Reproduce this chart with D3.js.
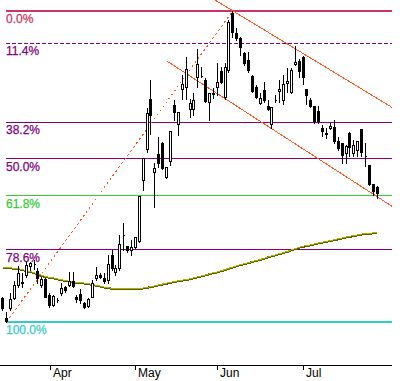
<!DOCTYPE html>
<html><head><meta charset="utf-8">
<script src="https://cdn.jsdelivr.net/npm/d3@7"></script>
<style>
html,body{margin:0;padding:0;background:#fff;}
svg{display:block;}
text{font-family:"Liberation Sans",Arial,sans-serif;font-size:12px;}
</style></head><body>
<svg id="chart" width="418" height="381"></svg>
<script>
// ---- data ----
const open  = [101.53,100.26,100.88,101.53,102.38,102.59,103.03,103.65,103.73,103.32,102.38,102.75,101.73,101.08,101.40,101.88,102.27,102.36,102.64,101.62,101.77,101.19,101.01,101.62,102.82,103.03,102.85,102.70,104.36,103.25,103.49,105.70,104.96,104.69,104.87,105.32,109.49,111.66,115.29,110.07,111.32,112.09,109.72,110.85,114.87,113.48,116.05,116.17,114.57,114.55,116.92,117.02,116.72,115.11,115.77,116.17,117.40,115.48,117.47,121.81,120.26,119.88,118.73,118.22,117.02,116.17,115.04,115.97,114.82,113.48,115.24,115.92,115.24,116.47,115.84,117.90,118.15,118.43,116.05,115.24,114.79,114.43,113.21,112.85,113.21,113.28,112.26,112.13,111.37,112.81,111.42,111.61,113.10,111.18,110.54,109.21,109.02];
const high  = [101.60,100.64,101.86,102.64,103.63,103.16,103.91,103.91,104.02,103.49,102.92,102.84,101.86,101.73,101.53,102.51,102.31,103.25,103.25,101.73,102.12,101.29,101.53,102.70,103.58,103.18,103.15,104.36,104.69,103.69,105.70,106.52,104.98,105.36,105.59,108.37,111.02,114.65,116.72,110.68,112.57,112.21,110.42,112.98,115.24,114.33,117.10,118.47,115.29,115.77,119.03,117.72,116.85,115.73,116.10,117.97,117.72,117.97,121.28,122.00,120.64,119.96,118.85,118.85,117.10,116.35,115.77,116.59,115.24,114.74,115.60,116.72,117.10,117.60,117.60,119.28,118.27,118.53,116.05,115.36,114.79,114.79,113.41,113.17,113.53,113.77,112.52,112.13,111.97,112.93,112.33,112.28,113.10,112.13,110.54,109.21,109.07];
const low   = [100.75,100.00,100.75,101.47,102.25,102.25,102.90,103.36,103.43,102.51,102.27,101.60,100.97,101.01,101.29,101.73,101.94,102.31,102.27,101.29,101.19,100.86,100.97,101.60,102.70,102.82,102.49,102.49,103.36,103.03,103.36,104.69,104.58,104.36,104.80,105.25,108.79,111.49,112.76,107.59,110.42,110.24,109.61,110.54,113.77,112.69,115.29,115.29,114.01,114.13,116.17,116.92,115.11,113.77,115.36,115.60,116.47,115.29,117.34,120.00,119.75,118.60,117.85,117.34,115.84,115.36,114.94,115.11,114.49,113.17,115.11,115.11,114.94,115.84,115.77,117.88,116.92,116.40,114.94,114.74,113.57,113.57,112.62,112.45,113.10,112.13,111.61,110.71,110.71,111.18,111.18,111.18,111.18,110.47,109.14,108.44,108.23];
const close = [100.88,100.07,101.47,102.38,103.16,102.49,103.69,103.82,103.73,102.82,102.77,101.62,101.08,101.66,101.40,102.20,102.05,102.64,102.33,101.45,101.40,100.97,101.45,102.49,103.03,102.92,102.66,103.76,103.48,103.48,105.10,105.70,104.69,104.91,105.59,108.37,111.02,114.30,114.13,110.31,110.66,110.31,110.42,112.98,114.37,114.33,116.42,117.55,115.00,115.24,117.92,117.02,115.19,115.73,115.66,116.55,116.59,117.72,121.15,120.38,119.93,119.23,117.97,117.47,115.92,115.48,115.36,115.24,114.55,114.74,115.24,116.02,116.42,116.65,117.47,118.09,117.42,116.92,115.60,114.79,113.72,113.72,113.00,112.76,113.33,112.28,111.73,111.25,111.90,111.85,111.97,112.28,111.49,111.18,109.21,108.74,108.56];
const movingAverage = [103.53,103.49,103.47,103.44,103.41,103.36,103.30,103.23,103.16,103.07,102.97,102.89,102.85,102.81,102.75,102.69,102.64,102.59,102.55,102.53,102.50,102.47,102.43,102.38,102.32,102.27,102.21,102.17,102.13,102.11,102.10,102.10,102.10,102.10,102.10,102.11,102.15,102.20,102.23,102.29,102.36,102.41,102.46,102.52,102.57,102.62,102.66,102.71,102.75,102.82,102.88,102.95,103.01,103.08,103.15,103.20,103.28,103.36,103.45,103.53,103.61,103.69,103.76,103.82,103.89,103.96,104.03,104.11,104.20,104.27,104.34,104.42,104.49,104.57,104.66,104.75,104.85,104.91,104.96,105.01,105.08,105.14,105.19,105.24,105.30,105.35,105.41,105.47,105.53,105.58,105.63,105.68,105.73,105.76,105.79,105.81,105.82];
const tickLabels = ["Apr","May","Jun","Jul"];
const tickIndex  = [12,34,55,77];
const fibLevels  = [0,0.114,0.382,0.5,0.618,0.786,1];
const fibLabels  = ["0.0%","11.4%","38.2%","50.0%","61.8%","78.6%","100.0%"];
const channelIndex = [42,99.8];
const channelUpper = [125.17,114.69];
const channelLower = [118.15,107.66];

// ---- styles ----
const fibColors = ["#cc3366","#800080","#800080","#800080","#33cc33","#800080","#33cccc"];
const fibWidths = [2,1,1,1,1,1,2];
const fibDash   = [null,"4,2",null,null,null,null,null];
const trendColor = "#ff5522";

const svg = d3.select("#chart");
const plotRight = 392, axisY = 365.5;
const n = close.length;
const x = d3.scaleLinear().domain([0, n-1]).range([2.8, 377.2]);
const y = d3.scaleLog().domain([100, 122]).range([321.7, 10.8]);

const maxHigh = d3.max(high), minLow = d3.min(low);
const hiIdx = high.indexOf(maxHigh), loIdx = low.indexOf(minLow);
const snap = v => Math.floor(v) + 0.5;

// fib levels
const fibG = svg.append("g");
fibLevels.forEach((f, k) => {
  const price = maxHigh - f*(maxHigh - minLow);
  const yy = fibWidths[k] === 2 ? Math.round(y(price)) : snap(y(price));
  fibG.append("line")
    .attr("x1", Math.floor(x(loIdx)) - 0.5).attr("x2", plotRight)
    .attr("y1", yy).attr("y2", yy)
    .attr("stroke", fibColors[k]).attr("stroke-width", fibWidths[k])
    .attr("stroke-dasharray", fibDash[k])
    .attr("shape-rendering", "crispEdges");
  fibG.append("text")
    .attr("x", 6).attr("y", Math.round(y(price)) + 12)
    .attr("fill", fibColors[k])
    .attr("stroke", fibColors[k]).attr("stroke-width", 0.25)
    .text(fibLabels[k]);
});

// moving average
svg.append("path")
  .datum(movingAverage)
  .attr("fill", "none").attr("stroke", "#5c5c00").attr("stroke-width", 2)
  .attr("shape-rendering", "crispEdges")
  .attr("d", d3.line().x((d,i) => x(i)).y(d => y(d)));
svg.append("path")
  .datum(movingAverage)
  .attr("fill", "none").attr("stroke", "#b0b000").attr("stroke-width", 1)
  .attr("shape-rendering", "crispEdges")
  .attr("d", d3.line().x((d,i) => x(i)).y(d => y(d) - 0.5));

// trend line from low to high (dotted)
svg.append("line")
  .attr("x1", x(loIdx)).attr("y1", y(minLow))
  .attr("x2", x(hiIdx)).attr("y2", y(maxHigh))
  .attr("stroke", trendColor).attr("stroke-width", 1)
  .attr("stroke-dasharray", "2,3")
  .attr("shape-rendering", "crispEdges");

// channel
[channelUpper, channelLower].forEach(ch => {
  svg.append("line")
    .attr("x1", x(channelIndex[0])).attr("y1", y(ch[0]))
    .attr("x2", x(channelIndex[1])).attr("y2", y(ch[1]))
    .attr("stroke", trendColor).attr("stroke-width", 1)
    .attr("shape-rendering", "crispEdges");
});

// candles
const cg = svg.append("g").attr("shape-rendering", "crispEdges");
d3.range(n).forEach(i => {
  const cx = x(i);
  const a = Math.round(cx - 1.5);
  const up = close[i] >= open[i];
  cg.append("line")
    .attr("x1", a + 1.5).attr("x2", a + 1.5)
    .attr("y1", Math.round(y(high[i]))).attr("y2", Math.round(y(low[i])) + 1)
    .attr("stroke", "#000").attr("stroke-width", 1);
  const top = Math.round(y(Math.max(open[i], close[i])));
  const bot = Math.round(y(Math.min(open[i], close[i])));
  const h = Math.max(0, bot - top);
  cg.append("path")
    .attr("d", `M${a+0.5},${top+0.5}h2v${h}h-2Z`)
    .attr("fill", up ? "#fff" : "#000")
    .attr("stroke", "#000").attr("stroke-width", 1);
});

// x axis
const ag = svg.append("g").attr("shape-rendering", "crispEdges");
ag.append("line").attr("x1", 0).attr("x2", plotRight)
  .attr("y1", axisY).attr("y2", axisY).attr("stroke", "#000");
tickIndex.forEach((t, k) => {
  const tx = Math.round(x(t)) + 0.5;
  ag.append("line").attr("x1", tx).attr("x2", tx)
    .attr("y1", 366).attr("y2", 370).attr("stroke", "#000");
  svg.append("text").attr("x", tx + 2.5).attr("y", 377)
    .attr("fill", "#000").text(tickLabels[k]);
});
</script>
</body></html>
